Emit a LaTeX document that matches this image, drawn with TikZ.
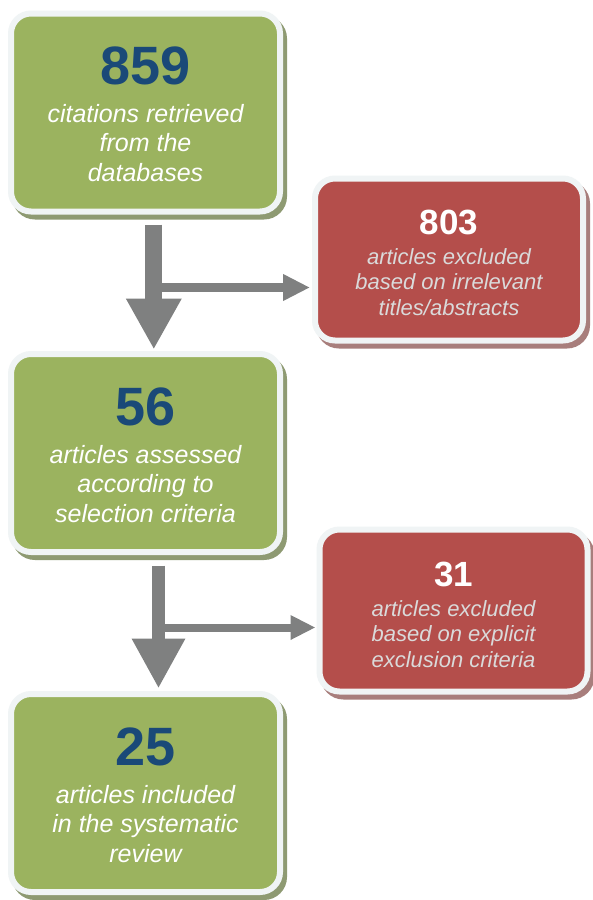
\documentclass[tikz,border=0pt]{standalone}
\usepackage{fontspec}
\setmainfont{Liberation Sans}
\usetikzlibrary{arrows.meta,calc}
\definecolor{gfill}{HTML}{9BB35F}
\definecolor{rfill}{HTML}{B44E4B}
\definecolor{gshadow}{HTML}{8E9A72}
\definecolor{rshadow}{HTML}{A87E7C}
\definecolor{rim}{HTML}{F0F4F5}
\definecolor{numblue}{HTML}{1A4978}
\definecolor{agray}{HTML}{7F8080}
\definecolor{rtext}{HTML}{DADADA}
\begin{document}
\begin{tikzpicture}[x=1pt,y=-1pt,
  box/.style={rectangle, rounded corners=20pt, line width=6pt, draw=rim, inner sep=0pt},
  gbox/.style={box, fill=gfill, minimum width=269pt, minimum height=198pt,
    preaction={fill=gshadow, draw=gshadow, line width=6pt, transform canvas={xshift=4pt,yshift=-5pt}}},
  rbox/.style={box, fill=rfill, minimum width=268pt, minimum height=162pt,
    preaction={fill=rshadow, draw=rshadow, line width=6pt, transform canvas={xshift=4pt,yshift=-5pt}}},
  gtext/.style={align=center, inner sep=0pt, anchor=north, text=white,
    font=\fontsize{25}{29.5}\selectfont\itshape},
  rtextst/.style={align=center, inner sep=0pt, anchor=north, text=rtext,
    font=\fontsize{22}{25.5}\selectfont\itshape},
  bigarrow/.style={draw=agray, line width=#1},
  bigtip/.style 2 args={-{Triangle[width=#1, length=#2]}},
]
\useasboundingbox[fill=white] (0,0) rectangle (592,900);

% boxes
\node[gbox] (b1) at (145.5,112.5) {};
\node[gbox] (b2) at (145.5,453) {};
\node[gbox] (b3) at (145.5,793) {};
\node[rbox] (r1) at (449,259.5) {};
\node[rbox] (r2) at (453.5,610.5) {};

% texts
\node[gtext] (t1) at ($(b1.north)+(0,36)$)
  {{\fontsize{54}{54}\selectfont\bfseries\upshape\color{numblue}859}\\[8.5pt]citations retrieved\\from the\\databases};
\node[gtext] (t2) at ($(b2.north)+(0,36.5)$)
  {{\fontsize{54}{54}\selectfont\bfseries\upshape\color{numblue}56}\\[8.5pt]articles assessed\\according to\\selection criteria};
\node[gtext] (t3) at ($(b3.north)+(0,36.5)$)
  {{\fontsize{54}{54}\selectfont\bfseries\upshape\color{numblue}25}\\[8.5pt]articles included\\in the systematic\\review};
\node[rtextst] (t4) at ($(r1.north)+(0,34)$)
  {{\fontsize{35}{35}\selectfont\bfseries\upshape\color{white}803}\\[4.5pt]articles excluded\\based on irrelevant\\titles/abstracts};
\node[rtextst] (t5) at ($(r2.north)+(0,35)$)
  {{\fontsize{35}{35}\selectfont\bfseries\upshape\color{white}31}\\[4.5pt]articles excluded\\based on explicit\\exclusion criteria};

% arrows 1
\coordinate (a1s) at ($(b1.south)+(8.3,10)$);
\coordinate (a1e) at ($(b2.north)+(8.3,-1.5)$);
\coordinate (a1b) at ($(a1s)+(0,63)$);
\draw[bigarrow=9pt, bigtip={25pt}{27pt}] (a1b) -- ($(r1.west |- a1b)+(-2,0)$);
\draw[bigarrow=17pt, bigtip={52pt}{51pt}] (a1s) -- (a1e);

% arrows 2
\coordinate (a2s) at ($(b2.south)+(13,10.5)$);
\coordinate (a2e) at ($(b3.north)+(13,-2.5)$);
\coordinate (a2b) at ($(a2s)+(0,62)$);
\draw[bigarrow=8pt, bigtip={23pt}{25pt}] (a2b) -- ($(r2.west |- a2b)+(-1,0)$);
\draw[bigarrow=13pt, bigtip={50pt}{50pt}] (a2s) -- (a2e);
\end{tikzpicture}
\end{document}
